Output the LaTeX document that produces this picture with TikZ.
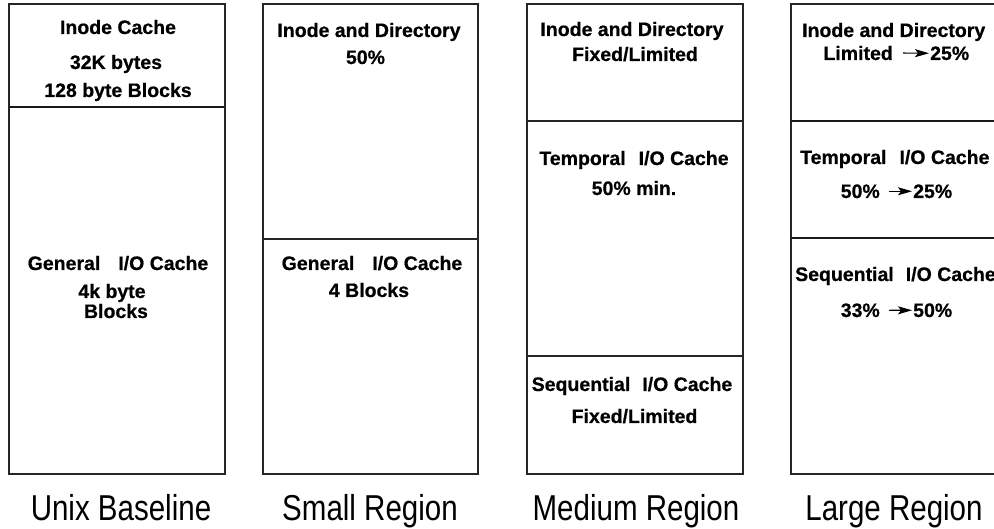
\documentclass[tikz,border=0pt]{standalone}
\usepackage{fontspec}
\setmainfont{Liberation Sans}[BoldFeatures={FakeBold=0.6}]
\newfontfamily\narrowfont{Liberation Sans}[FakeStretch=0.82]
\usetikzlibrary{arrows.meta}
\tikzset{
  boxline/.style={draw=black!85, line width=1.2pt},
  divline/.style={draw=black!90, line width=1.6pt},
  txt/.style={font=\bfseries\fontsize{19.5}{21}\selectfont, inner sep=0pt, anchor=base},
  lbl/.style={font=\narrowfont\fontsize{36}{40}\selectfont, inner sep=0pt, anchor=base},
  arr/.style={-{Stealth[length=14pt,width=8pt,inset=3pt]}, line width=1.1pt},
}
\begin{document}
\begin{tikzpicture}[x=1pt,y=-1pt]
\useasboundingbox (0,0) rectangle (994,529);
\clip (0,0) rectangle (994,529);
\fill[white] (0,0) rectangle (994,529);

% ---- Box 1: Unix Baseline
\draw[boxline] (9,4) rectangle (225,474);
\draw[divline] (9,107) -- (225,107);
\node[txt] (b1a) at (118,34) {Inode Cache};
\node[txt] (b1b) at (116,69) {32K bytes};
\node[txt] (b1c) at (118,97) {128 byte Blocks};
\node[txt] (b1d) at (118,270) {General\hspace{18pt}I/O Cache};
\node[txt] (b1e) at (112,298) {4k byte};
\node[txt] (b1f) at (116,318) {Blocks};
\node[lbl] (l1) at (121,520) {Unix Baseline};

% ---- Box 2: Small Region
\draw[boxline] (263,4) rectangle (478,474);
\draw[boxline] (263,239) -- (478,239);
\node[txt] (b2a) at (369,37) {Inode and Directory};
\node[txt] (b2b) at (365.5,64) {50\%};
\node[txt] (b2c) at (372,270) {General\hspace{18pt}I/O Cache};
\node[txt] (b2d) at (369,297) {4 Blocks};
\node[lbl] (l2) at (370,520) {Small Region};

% ---- Box 3: Medium Region
\draw[boxline] (527,4) rectangle (743,474);
\draw[boxline] (527,121) -- (743,121);
\draw[boxline] (527,356) -- (743,356);
\node[txt] (b3a) at (632,36) {Inode and Directory};
\node[txt] (b3b) at (635,61) {Fixed/Limited};
\node[txt] (b3c) at (634,165) {Temporal\hspace{13pt}I/O Cache};
\node[txt] (b3d) at (634,195) {50\% min.};
\node[txt] (b3e) at (632,391) {Sequential\hspace{12pt}I/O Cache};
\node[txt] (b3f) at (634.5,423) {Fixed/Limited};
\node[lbl] (l3) at (636,520) {Medium Region};

% ---- Box 4: Large Region
\draw[boxline] (791,4) rectangle (1007,474);
\draw[divline] (791,121) -- (1007,121);
\draw[divline] (791,238) -- (1007,238);
\node[txt] (b4a) at (893.7,37) {Inode and Directory};
\node[txt, anchor=base east] (b4b1) at (893,60) {Limited};
\node[txt, anchor=base west] (b4b2) at (930,60) {25\%};
\draw[arr] ([xshift=10pt]b4b1.east) -- ([xshift=-1pt]b4b2.west);
\node[txt, anchor=base west] (b4c) at (800,164) {Temporal\hspace{13pt}I/O Cache};
\node[txt, anchor=base east] (b4d1) at (880,198) {50\%};
\node[txt, anchor=base west] (b4d2) at (913,198) {25\%};
\draw[arr] ([xshift=9pt]b4d1.east) -- ([xshift=-1pt]b4d2.west);
\node[txt, anchor=base west] (b4e) at (795,281) {Sequential\hspace{12pt}I/O Cache};
\node[txt, anchor=base east] (b4f1) at (880,317) {33\%};
\node[txt, anchor=base west] (b4f2) at (913,317) {50\%};
\draw[arr] ([xshift=9pt]b4f1.east) -- ([xshift=-1pt]b4f2.west);
\node[lbl] (l4) at (894,520) {Large Region};
\end{tikzpicture}
\end{document}
